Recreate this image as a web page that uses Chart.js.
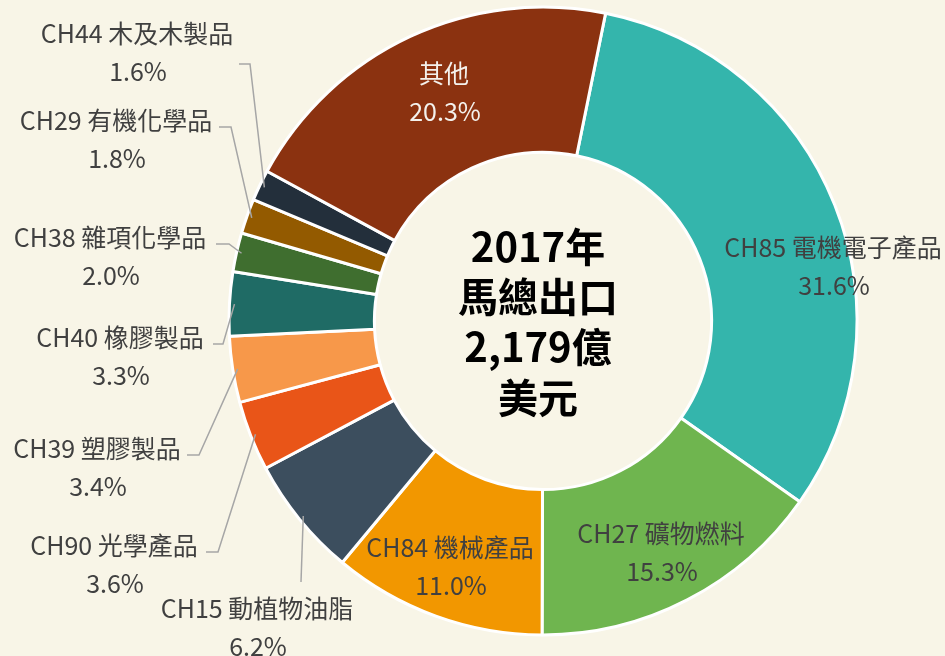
<!DOCTYPE html>
<html><head><meta charset="utf-8">
<script src="https://cdn.jsdelivr.net/npm/chart.js@4.4.0/dist/chart.umd.min.js"></script>
<style>
html,body{margin:0;padding:0;background:#F8F5E7;}
#wrap{width:945px;height:656px;position:relative;}
</style>
</head><body><div id="wrap"><canvas id="c"></canvas></div>
<script>
// ---- data ----
const categories = ['CH85 電機電子產品','CH27 礦物燃料','CH84 機械產品','CH15 動植物油脂','CH90 光學產品','CH39 塑膠製品','CH40 橡膠製品','CH38 雜項化學品','CH29 有機化學品','CH44 木及木製品','其他'];
const shares = [31.6, 15.3, 11.0, 6.2, 3.6, 3.4, 3.3, 2.0, 1.8, 1.6, 20.3];
const percentLabels = shares.map(v => v.toFixed(1) + '%');
const centerTitle = ['2017年', '馬總出口', '2,179億', '美元'];

// ---- style ----
const sliceColors = ['#34B5AC','#6FB54F','#F29700','#3C4E5E','#E95518','#F7984A','#1F6B65','#3F6E2F','#935A00','#232F3B','#8B3210'];
const TEXT = '#404040';
const FONT = '"Noto Sans CJK TC", "Noto Sans", sans-serif';

// label placement relative to the doughnut centre (inside: text centre; outside: text centre + leader)
const labelLayout = [
  {cx: 290,  y: -74, inside: true},
  {cx: 118,  y: 212, inside: true},
  {cx: -93,  y: 226, inside: true},
  {cx: -286, y: 287, start: [-242, 261]},
  {cx: -429, y: 224, start: [-337, 231], elbow: [-325, 231]},
  {cx: -446, y: 127, start: [-356, 134], elbow: [-344, 134]},
  {cx: -423, y: 16,  start: [-330, 23],  elbow: [-320, 23]},
  {cx: -433, y: -84, start: [-327, -77], elbow: [-314, -77]},
  {cx: -427, y: -201,start: [-324, -194],elbow: [-312, -194]},
  {cx: -406, y: -288,start: [-304, -257],elbow: [-293, -257]},
  {cx: -99,  y: -248, inside: true, color: '#F4F1EC'}
];

const labelPlugin = {
  id: 'labels',
  afterDraw(chart) {
    const ctx = chart.ctx;
    const arcs = chart.getDatasetMeta(0).data;
    const cx0 = arcs[0].x, cy0 = arcs[0].y;
    ctx.save();
    // leaders
    ctx.strokeStyle = '#A6A6A6';
    ctx.lineWidth = 1.5;
    arcs.forEach((arc, i) => {
      const L = labelLayout[i];
      if (L.inside) return;
      const mid = (arc.startAngle + arc.endAngle) / 2;
      const r = arc.outerRadius - 5;
      const ex = arc.x + r * Math.cos(mid), ey = arc.y + r * Math.sin(mid);
      ctx.beginPath();
      ctx.moveTo(cx0 + L.start[0], cy0 + L.start[1]);
      if (L.elbow) ctx.lineTo(cx0 + L.elbow[0], cy0 + L.elbow[1]);
      ctx.lineTo(ex, ey);
      ctx.stroke();
    });
    // labels
    ctx.textAlign = 'center';
    ctx.textBaseline = 'middle';
    ctx.font = '400 25px ' + FONT;
    arcs.forEach((arc, i) => {
      const L = labelLayout[i];
      ctx.fillStyle = L.color || TEXT;
      ctx.fillText(categories[i], cx0 + L.cx, cy0 + L.y);
      ctx.fillText(percentLabels[i], cx0 + L.cx + 1, cy0 + L.y + 38);
    });
    // centre title
    ctx.fillStyle = '#000000';
    ctx.font = '700 40px ' + FONT;
    const ys = [-74, -24, 26, 77];
    centerTitle.forEach((t, k) => ctx.fillText(t, cx0 - 5, cy0 + ys[k]));
    ctx.restore();
  }
};

new Chart(document.getElementById('c'), {
  type: 'doughnut',
  data: {
    labels: categories,
    datasets: [{
      data: shares,
      backgroundColor: sliceColors,
      borderColor: '#FFFFFF',
      borderWidth: 3,
      hoverOffset: 0
    }]
  },
  options: {
    responsive: true,
    maintainAspectRatio: false,
    animation: false,
    rotation: 11.5,
    radius: 314,
    cutout: '53.7%',
    layout: {padding: {left: 141, right: 0, top: 0, bottom: 14}},
    plugins: {legend: {display: false}, tooltip: {enabled: false}}
  },
  plugins: [labelPlugin]
});
</script>
</body></html>
